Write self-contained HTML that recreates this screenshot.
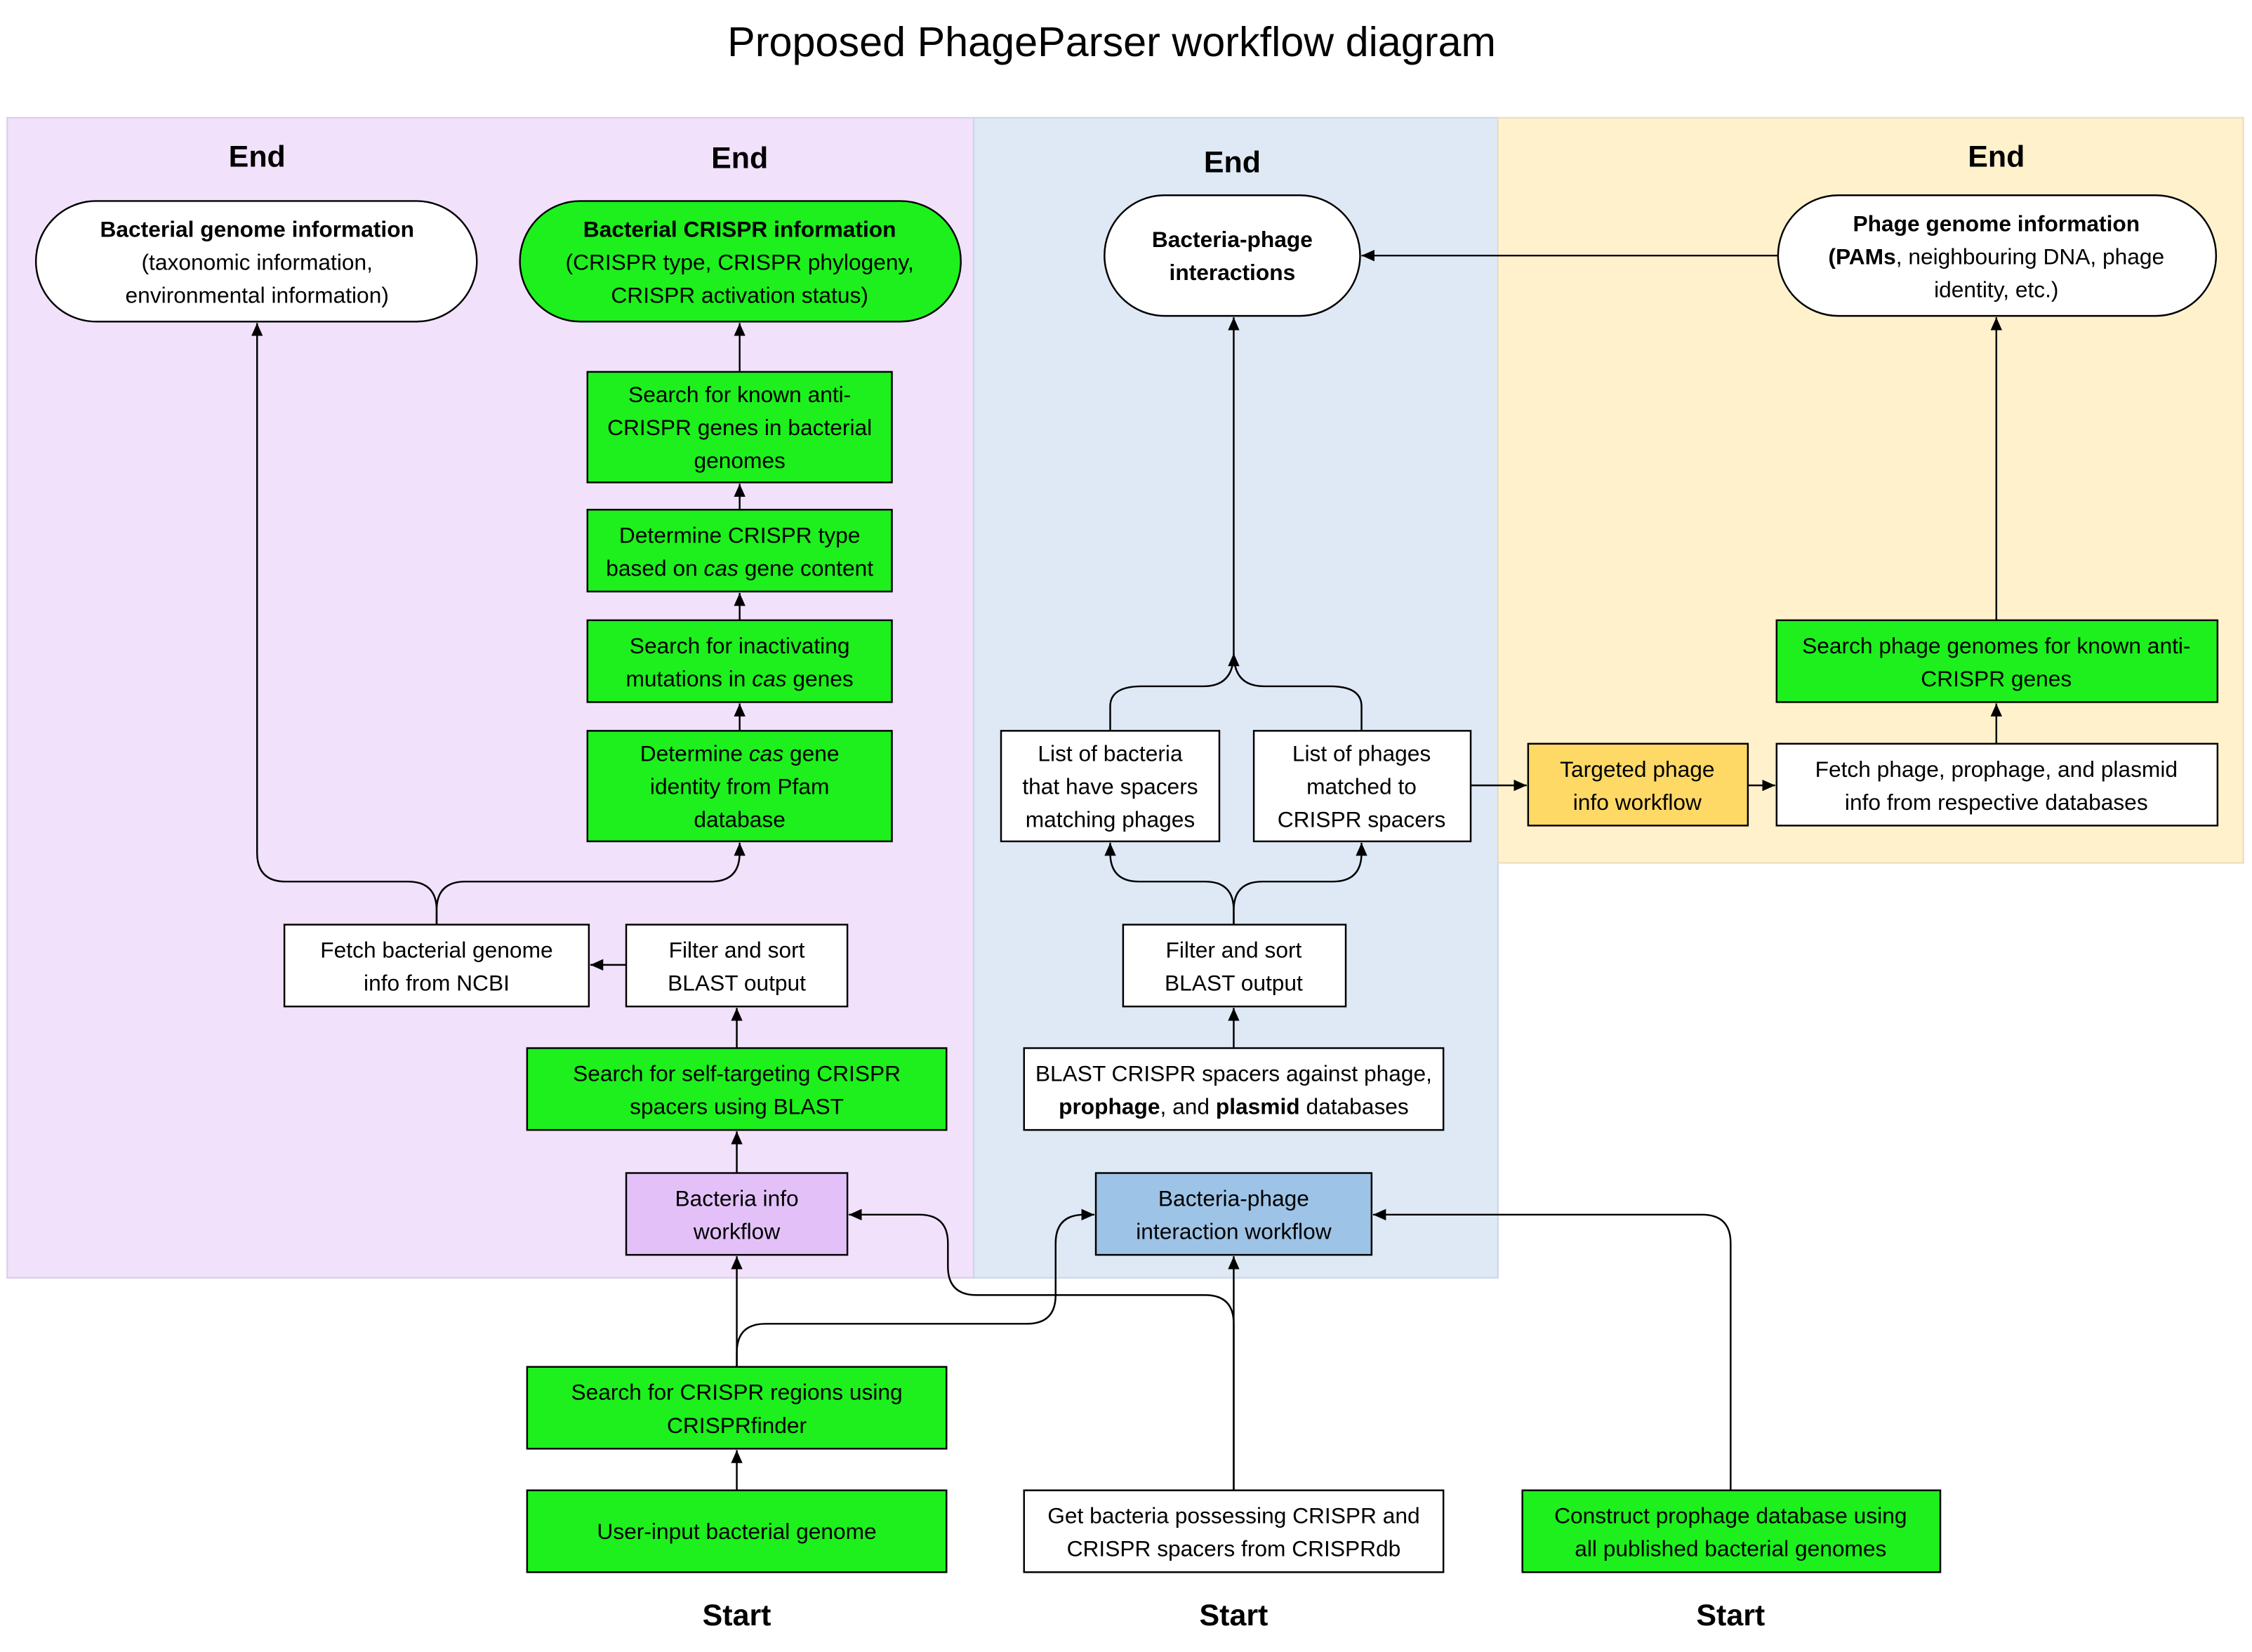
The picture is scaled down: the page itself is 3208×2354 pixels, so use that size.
<!DOCTYPE html>
<html><head><meta charset="utf-8"><style>
html,body{margin:0;padding:0;background:#fff;}
svg{display:block;}
text{font-family:"Liberation Sans",sans-serif;font-size:15.5px;fill:#000;}
.b{font-weight:bold;}
.e{font-weight:bold;font-size:21px;}
</style></head><body>
<svg width="3208" height="2354" viewBox="0 0 1568 1150.6" xmlns="http://www.w3.org/2000/svg">
<defs><marker id="a" markerWidth="10" markerHeight="10" refX="9" refY="5" orient="auto" markerUnits="userSpaceOnUse"><path d="M0,1 L9,5 L0,9 z" fill="#000"/></marker></defs>
<rect width="1568" height="1151" fill="#fff"/>
<text x="774" y="39" text-anchor="middle" style="font-size:29px">Proposed PhageParser workflow diagram</text>
<rect x="5" y="82" width="673" height="808" fill="#f1e1fb" stroke="#d8cde8"/>
<rect x="678" y="82" width="365" height="808" fill="#dee9f5" stroke="#c8d6e8"/>
<rect x="1043" y="82" width="519" height="519" fill="#fff1cc" stroke="#e8dcc0"/>
<g class="e"><text class="e" x="179" y="116" text-anchor="middle">End</text><text class="e" x="515" y="117" text-anchor="middle">End</text><text class="e" x="858" y="120" text-anchor="middle">End</text><text class="e" x="1390" y="116" text-anchor="middle">End</text>
<text class="e" x="513" y="1132" text-anchor="middle">Start</text><text class="e" x="859" y="1132" text-anchor="middle">Start</text><text class="e" x="1205" y="1132" text-anchor="middle">Start</text></g>
<g stroke="#000" stroke-width="1.2">
<rect x="25" y="140" width="307" height="84" rx="42" fill="#fff"/>
<rect x="362" y="140" width="307" height="84" rx="42" fill="#1df01d"/>
<rect x="769" y="136" width="178" height="84" rx="42" fill="#fff"/>
<rect x="1238" y="136" width="305" height="84" rx="42" fill="#fff"/>
<rect x="409" y="259" width="212" height="77" fill="#1df01d"/>
<rect x="409" y="355" width="212" height="57" fill="#1df01d"/>
<rect x="409" y="432" width="212" height="57" fill="#1df01d"/>
<rect x="409" y="509" width="212" height="77" fill="#1df01d"/>
<rect x="198" y="644" width="212" height="57" fill="#fff"/>
<rect x="436" y="644" width="154" height="57" fill="#fff"/>
<rect x="367" y="730" width="292" height="57" fill="#1df01d"/>
<rect x="436" y="817" width="154" height="57" fill="#e3c1f8"/>
<rect x="367" y="952" width="292" height="57" fill="#1df01d"/>
<rect x="367" y="1038" width="292" height="57" fill="#1df01d"/>
<rect x="697" y="509" width="152" height="77" fill="#fff"/>
<rect x="873" y="509" width="151" height="77" fill="#fff"/>
<rect x="782" y="644" width="155" height="57" fill="#fff"/>
<rect x="713" y="730" width="292" height="57" fill="#fff"/>
<rect x="763" y="817" width="192" height="57" fill="#9dc3e6"/>
<rect x="713" y="1038" width="292" height="57" fill="#fff"/>
<rect x="1060" y="1038" width="291" height="57" fill="#1df01d"/>
<rect x="1064" y="518" width="153" height="57" fill="#ffd966"/>
<rect x="1237" y="518" width="307" height="57" fill="#fff"/>
<rect x="1237" y="432" width="307" height="57" fill="#1df01d"/>
</g>
<g fill="none" stroke="#000" stroke-width="1.2" marker-end="url(#a)">
<path d="M304 644 V634 Q304 614 284 614 H199 Q179 614 179 594 V225"/>
<path d="M304 644 V634 Q304 614 324 614 H495 Q515 614 515 594 V587"/>
<path d="M436 672 H411"/>
<path d="M513 730 V702"/>
<path d="M513 817 V788"/>
<path d="M515 509 V490"/><path d="M515 432 V413"/><path d="M515 355 V337"/><path d="M515 259 V225"/>
<path d="M513 952 V875"/>
<path d="M513 952 V942 Q513 922 533 922 H715 Q735 922 735 902 V866 Q735 846 755 846 H762"/>
<path d="M513 1038 V1010"/>
<path d="M859 1038 V875"/>
<path d="M859 1038 V922 Q859 902 839 902 H680 Q660 902 660 882 V866 Q660 846 640 846 H591"/>
<path d="M1205 1038 V866 Q1205 846 1185 846 H956"/>
<path d="M859 730 V702"/>
<path d="M859 644 V634 Q859 614 839 614 H793 Q773 614 773 594 V587"/>
<path d="M859 644 V634 Q859 614 879 614 H928 Q948 614 948 594 V587"/>
<path d="M773 509 V492 Q773 478 795 478 H838 Q859 478 859 455 V221"/>
<path d="M948 509 V492 Q948 478 926 478 H880 Q859 478 859 455"/>
<path d="M1024 547 H1063"/>
<path d="M1217 547 H1236"/>
<path d="M1390 518 V490"/>
<path d="M1390 432 V221"/>
<path d="M1238 178 H948"/>
</g>
<g text-anchor="middle">
<text x="179" y="165" class="b">Bacterial genome information</text><text x="179" y="188">(taxonomic information,</text><text x="179" y="211">environmental information)</text>
<text x="515" y="165" class="b">Bacterial CRISPR information</text><text x="515" y="188">(CRISPR type, CRISPR phylogeny,</text><text x="515" y="211">CRISPR activation status)</text>
<text x="858" y="172" class="b">Bacteria-phage</text><text x="858" y="195" class="b">interactions</text>
<text x="1390" y="161" class="b">Phage genome information</text><text x="1390" y="184"><tspan class="b">(PAMs</tspan>, neighbouring DNA, phage</text><text x="1390" y="207">identity, etc.)</text>
<text x="515" y="280">Search for known anti-</text><text x="515" y="303">CRISPR genes in bacterial</text><text x="515" y="326">genomes</text>
<text x="515" y="378">Determine CRISPR type</text><text x="515" y="401">based on <tspan font-style="italic">cas</tspan> gene content</text>
<text x="515" y="455">Search for inactivating</text><text x="515" y="478">mutations in <tspan font-style="italic">cas</tspan> genes</text>
<text x="515" y="530">Determine <tspan font-style="italic">cas</tspan> gene</text><text x="515" y="553">identity from Pfam</text><text x="515" y="576">database</text>
<text x="304" y="667">Fetch bacterial genome</text><text x="304" y="690">info from NCBI</text>
<text x="513" y="667">Filter and sort</text><text x="513" y="690">BLAST output</text>
<text x="513" y="753">Search for self-targeting CRISPR</text><text x="513" y="776">spacers using BLAST</text>
<text x="513" y="840">Bacteria info</text><text x="513" y="863">workflow</text>
<text x="513" y="975">Search for CRISPR regions using</text><text x="513" y="998">CRISPRfinder</text>
<text x="513" y="1072">User-input bacterial genome</text>
<text x="773" y="530">List of bacteria</text><text x="773" y="553">that have spacers</text><text x="773" y="576">matching phages</text>
<text x="948" y="530">List of phages</text><text x="948" y="553">matched to</text><text x="948" y="576">CRISPR spacers</text>
<text x="859" y="667">Filter and sort</text><text x="859" y="690">BLAST output</text>
<text x="859" y="753">BLAST CRISPR spacers against phage,</text><text x="859" y="776"><tspan class="b">prophage</tspan>, and <tspan class="b">plasmid</tspan> databases</text>
<text x="859" y="840">Bacteria-phage</text><text x="859" y="863">interaction workflow</text>
<text x="859" y="1061">Get bacteria possessing CRISPR and</text><text x="859" y="1084">CRISPR spacers from CRISPRdb</text>
<text x="1205" y="1061">Construct prophage database using</text><text x="1205" y="1084">all published bacterial genomes</text>
<text x="1140" y="541">Targeted phage</text><text x="1140" y="564">info workflow</text>
<text x="1390" y="541">Fetch phage, prophage, and plasmid</text><text x="1390" y="564">info from respective databases</text>
<text x="1390" y="455">Search phage genomes for known anti-</text><text x="1390" y="478">CRISPR genes</text>
</g>
</svg>
</body></html>
